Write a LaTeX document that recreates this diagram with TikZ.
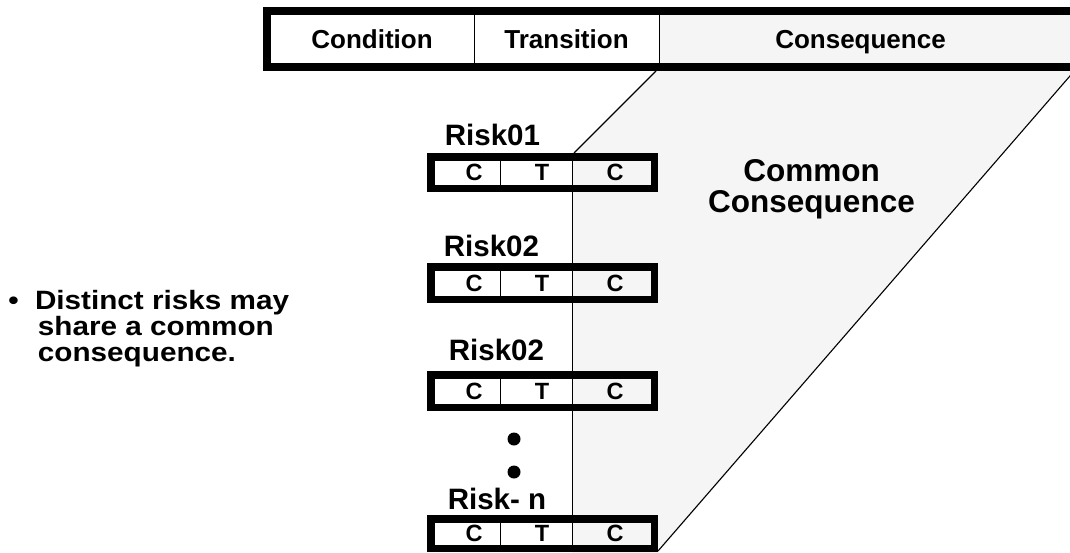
\documentclass[tikz,border=0pt]{standalone}
\usepackage{fontspec}
\setmainfont{Liberation Sans}
\definecolor{consfill}{RGB}{245,245,245}
\begin{document}
\begin{tikzpicture}[x=1pt,y=-1pt,
  thinline/.style={line width=1.1pt},
  divider/.style={line width=1pt},
  headframe/.style={line width=8pt,line join=miter},
  boxframe/.style={line width=7.5pt,line join=miter},
  txt/.style={inner sep=0pt,outer sep=0pt,font=\bfseries},
  hdr/.style={txt,anchor=base,font=\fontsize{26}{26}\selectfont\bfseries},
  cellchar/.style={txt,font=\fontsize{23.5}{23.5}\selectfont\bfseries},
  risklab/.style={txt,anchor=base,font=\fontsize{29.5}{29.5}\selectfont\bfseries},
  dotmark/.style={circle,fill=black,inner sep=0pt,minimum size=13pt}]
\useasboundingbox (0,0) rectangle (1070,552);

% shaded band of the shared consequence
\fill[consfill] (656,67) -- (656,71) -- (574,153) -- (572,153) -- (572,553)
  -- (658,553) -- (1074,71) -- (1078,67) -- cycle;

% outline of the band
\coordinate (ltop) at (656,71);
\coordinate (lbot) at (574,153);
\coordinate (vtop) at (572,153);
\coordinate (vbot) at (572,552);
\coordinate (rbot) at (658,551);
\coordinate (rtop) at (1076,69);
\draw[thinline] (ltop) -- (lbot);
\draw[divider] (vtop) -- (vbot);
\draw[thinline] (rbot) -- (rtop);

% header bar
\fill[white] (271,15) rectangle (659,63);
\fill[consfill] (659,15) rectangle (1090,63);
\draw[divider] (474,15) -- (474,63);
\draw[divider] (659,15) -- (659,63);
\draw[headframe] (1095,11) -- (267,11) -- (267,67) -- (1095,67);
\node[hdr] (hcond) at (372,48.5) {Condition};
\node[hdr] (htrans) at (566.5,48.5) {Transition};
\node[hdr] (hcons) at (860.5,48.5) {Consequence};

% risk records: index / top / height / label / label x / label baseline
\foreach \n/\t/\h/\lab/\lx/\lb in {1/153/39/Risk01/492.5/145,
                                   2/263/40/Risk02/491.5/256,
                                   3/371/40/Risk02/496.5/360,
                                   4/515/37/Risk- n/497/509}{
  \fill[white] (435,{\t+7.5}) rectangle (572,{\t+\h-7.5});
  \fill[consfill] (572,{\t+7.5}) rectangle (651,{\t+\h-7.5});
  \draw[divider] (500,{\t+7.5}) -- (500,{\t+\h-7.5});
  \draw[divider] (572,{\t+7.5}) -- (572,{\t+\h-7.5});
  \draw[boxframe] (430.75,{\t+3.75}) rectangle (654.25,{\t+\h-3.75});
  \node[cellchar] (r\n-cond) at (474,{\t+\h/2}) {C};
  \node[cellchar] (r\n-trans) at (542,{\t+\h/2}) {T};
  \node[cellchar] (r\n-cons) at (615,{\t+\h/2}) {C};
  \node[risklab] (risk\n) at (\lx,\lb) {\lab};
}

% ellipsis between the listed risks
\node[dotmark] (dot1) at (514,439) {};
\node[dotmark] (dot2) at (514,472) {};

% label of the shared consequence
\node[txt,anchor=base] (common) at (811.5,181)
  {\fontsize{31.5}{31.5}\selectfont\bfseries
   \vtop{\baselineskip=31pt\lineskiplimit=-100pt
     \halign{\hfil#\hfil\cr Common\cr Consequence\cr}}};

% bullet note, set slightly wide
\node[txt,anchor=base west] (note) at (8.5,309.5)
  {\scalebox{1.12}[1]{\fontsize{26.5}{26.5}\selectfont\bfseries
   \vtop{\baselineskip=26pt\lineskiplimit=-100pt
     \hbox{\makebox[23.7pt][l]{•}Distinct risks may}
     \hbox{\hspace*{26.3pt}share a common}
     \hbox{\hspace*{26.3pt}consequence.}}}};
\end{tikzpicture}
\end{document}
